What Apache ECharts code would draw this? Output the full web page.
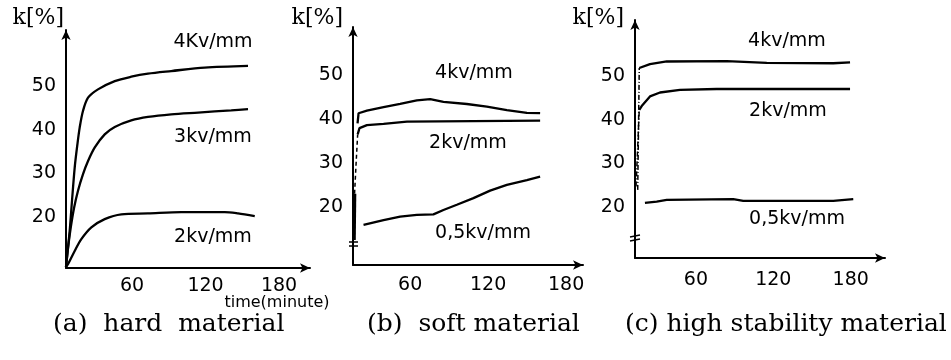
<!DOCTYPE html>
<html>
<head>
<meta charset="utf-8">
<script src="https://cdn.jsdelivr.net/npm/echarts@6/dist/echarts.min.js"></script>
<style>
html, body { margin: 0; padding: 0; background: #fff; }
#main { width: 951px; height: 360px; }
</style>
</head>
<body>
<div id="main"></div>
<script>
// 刻度
var xTicks = [60, 120, 180];
var yTicks = [20, 30, 40, 50];

// (a) hard material  [time, k]
var hard4kv = [[6.1, 8.5], [9.1, 16.8], [11, 23.7], [13.2, 31.3], [15.4, 36.6], [17.3, 40.5], [20, 44.3],
  [24.1, 47.3], [32.2, 49.2], [45.9, 51.1], [59.4, 52.1], [73, 52.8], [92, 53.4], [119.3, 54.2], [154.7, 54.6]];
var hard3kv = [[6.1, 8.5], [7.8, 13], [10, 17.6], [12.7, 22.1], [15.9, 26], [20, 29.8], [24.1, 32.8],
  [29.6, 35.9], [37.7, 38.9], [45.9, 40.6], [59.4, 42.1], [73, 42.9], [92, 43.5], [113.9, 43.9], [141, 44.4], [154.7, 44.7]];
var hard2kv = [[6.1, 8.5], [7.8, 9.2], [13.2, 12.2], [18.6, 14.9], [26.8, 17.6], [37.7, 19.5], [51.3, 20.6],
  [73, 20.8], [100.2, 21.1], [135.7, 21.1], [146.5, 20.8], [160.2, 20.2]];

// (b) soft material
var soft4kv = [[19.5, 39], [20.3, 41.3], [26.7, 41.9], [39.5, 42.7], [52.3, 43.4], [65.1, 44.2], [75.4, 44.5],
  [85.6, 43.9], [103.6, 43.4], [119, 42.8], [134.4, 42], [149.8, 41.4], [160, 41.3]];
var soft2kvRiseLow = [[16.8, 12.5], [17.2, 23]];
var soft2kvRiseHigh = [[17.2, 23], [18.4, 30], [19.6, 36.5]];
var soft2kv = [[19.6, 36.5], [21, 37.9], [26.7, 38.6], [39.5, 38.9], [57.5, 39.4], [160, 39.6]];
var soft05kv = [[24.1, 15.9], [39.5, 17], [52.3, 17.8], [65.1, 18.2], [77.9, 18.3], [85.6, 19.3], [95.9, 20.5],
  [108.7, 22], [121.5, 23.7], [134.4, 25], [149.8, 26.1], [160, 26.9]];

// (c) high stability material
var stable4kvRise = [[14.9, 23.9], [16.1, 51.8]];
var stable4kv = [[16.1, 51.8], [24.4, 52.7], [37.4, 53.3], [83.9, 53.4], [114.9, 53], [166.5, 52.9], [179.5, 53.1]];
var stable2kvRise = [[13.6, 24.7], [16.1, 42.2]];
var stable2kv = [[16.1, 42.2], [18, 43.1], [24.4, 45.3], [32.2, 46.2], [47.7, 46.8], [76.1, 47], [179.5, 47]];
var stable05kv = [[20.5, 20.9], [29.6, 21.2], [37.4, 21.6], [89, 21.8], [96.7, 21.4], [166.5, 21.4], [182, 21.8]];

(function() {
  var myChart = echarts.init(document.getElementById("main"));

  var numFont = "DejaVu Sans";
  var axisLine = {
    show: true,
    onZero: false,
    symbol: ["none", "arrow"],
    symbolSize: [7, 10],
    lineStyle: { color: "#000", width: 2 }
  };

  function xAxis(idx, min, max, margin) {
    return {
      type: "value", gridIndex: idx, min: min, max: max,
      axisLine: axisLine, axisTick: { show: false }, splitLine: { show: false },
      axisLabel: { customValues: xTicks, margin: margin, color: "#000", fontFamily: numFont, fontSize: 19 }
    };
  }
  function yAxis(idx, min, max, margin) {
    return {
      type: "value", gridIndex: idx, min: min, max: max,
      axisLine: axisLine, axisTick: { show: false }, splitLine: { show: false },
      axisLabel: { customValues: yTicks, margin: margin, color: "#000", fontFamily: numFont, fontSize: 19 }
    };
  }
  function line(idx, data, style, smooth) {
    return {
      type: "line", xAxisIndex: idx, yAxisIndex: idx, data: data,
      showSymbol: false, smooth: smooth || false, silent: true,
      lineStyle: Object.assign({ color: "#000", width: 2.3 }, style || {})
    };
  }
  function label(text, x, y, size) {
    return {
      type: "text", x: x, y: y,
      style: { text: text, fill: "#000", font: (size || 19) + "px DejaVu Sans", align: "center", verticalAlign: "middle" }
    };
  }
  function serif(text, x, y, size, align) {
    return {
      type: "text", x: x, y: y,
      style: { text: text, fill: "#000", font: size + "px DejaVu Serif", align: align || "left", verticalAlign: "middle" }
    };
  }
  function tick(x1, y1, x2, y2) {
    return { type: "line", shape: { x1: x1, y1: y1, x2: x2, y2: y2 }, style: { stroke: "#000", lineWidth: 1.5 } };
  }

  var option = {
    backgroundColor: "#fff",
    animation: false,
    grid: [
      { left: 66, top: 30, width: 244, height: 238 },
      { left: 353, top: 27, width: 230, height: 238 },
      { left: 635, top: 20, width: 250, height: 238 }
    ],
    xAxis: [xAxis(0, 6.1, 205.3, 9), xAxis(1, 16, 193, 11), xAxis(2, 12.8, 206.6, 13)],
    yAxis: [yAxis(0, 8.3, 62.8, 10), yAxis(1, 6.8, 60.9, 10), yAxis(2, 8.3, 62.8, 10)],
    series: [
      line(0, hard4kv, null, 0.3),
      line(0, hard3kv, null, 0.3),
      line(0, hard2kv, null, 0.3),
      line(1, soft4kv),
      line(1, soft2kvRiseLow, { width: 3.5 }),
      line(1, soft2kvRiseHigh, { type: [4, 3], width: 1.5 }),
      line(1, soft2kv),
      line(1, soft05kv),
      line(2, stable4kvRise, { type: [5, 2, 1, 2], width: 1.5 }),
      line(2, stable4kv),
      line(2, stable2kvRise, { type: [5, 2, 1, 2], width: 1.5 }),
      line(2, stable2kv),
      line(2, stable05kv)
    ],
    graphic: [
      serif("k[%]", 64, 18, 22, "right"),
      serif("k[%]", 343, 18, 22, "right"),
      serif("k[%]", 624, 18, 22, "right"),
      label("4Kv/mm", 213, 42),
      label("3kv/mm", 213, 137),
      label("2kv/mm", 213, 237),
      label("4kv/mm", 474, 73),
      label("2kv/mm", 468, 143),
      label("0,5kv/mm", 483, 233),
      label("4kv/mm", 787, 41),
      label("2kv/mm", 788, 111),
      label("0,5kv/mm", 797, 219),
      label("time(minute)", 277, 303, 16),
      serif("(a)  hard  material", 53, 324, 25),
      serif("(b)  soft material", 367, 324, 25),
      serif("(c) high stability material", 625, 324, 25),
      // 轴断开标记
      tick(349, 242, 358, 242),
      tick(349, 246, 358, 246),
      tick(630, 237, 640, 235),
      tick(630, 241, 640, 239)
    ]
  };

  myChart.setOption(option);
  window.addEventListener("resize", function() {
    myChart.resize();
  });
})();
</script>
</body>
</html>
